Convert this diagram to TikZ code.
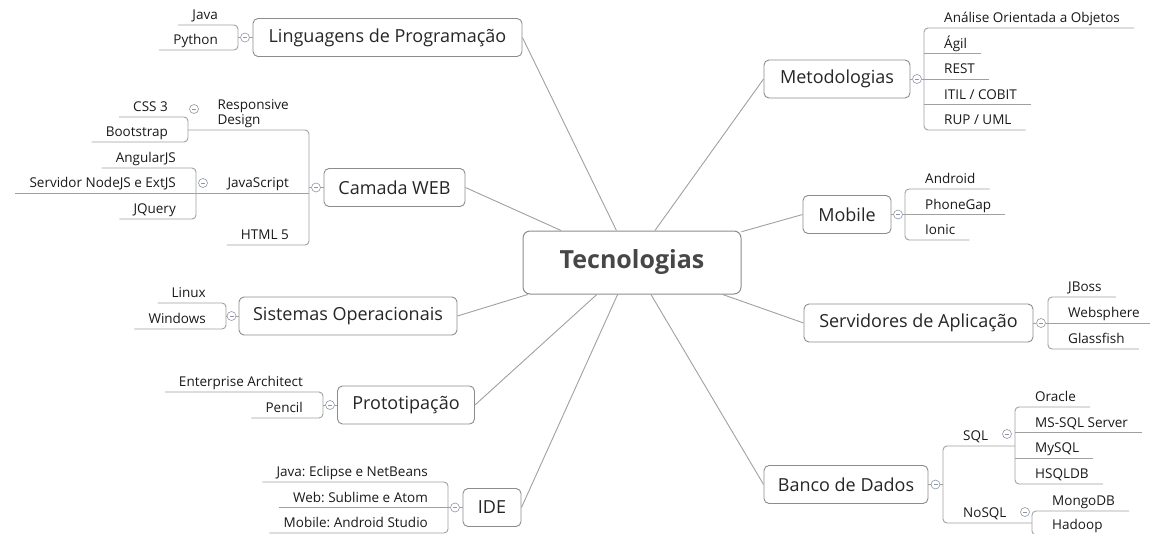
\documentclass[tikz,border=0pt]{standalone}
\usepackage{fontspec}
\setmainfont{Open Sans}
\definecolor{linec}{HTML}{A0A0A0}
\definecolor{boxc}{HTML}{8C8C8C}
\definecolor{foldc}{HTML}{8E96A8}
\newcommand{\leaffont}{\fontsize{13.5}{15}\selectfont}
\newcommand{\topicfont}{\fontsize{18}{21}\selectfont}
\frenchspacing
\begin{document}
\begin{tikzpicture}[x=1pt,y=-1pt,
  root/.style={draw=boxc,line width=1pt,rounded corners=7pt,fill=white,minimum width=218pt,minimum height=63pt,font=\fontsize{25}{29}\selectfont\bfseries,text=black!72},
  topic/.style={draw=boxc,line width=0.9pt,rounded corners=5pt,fill=white,minimum height=38pt,inner xsep=0pt,font=\topicfont,text=black!85},
  leaf/.style={inner xsep=14pt,inner ysep=5pt,text depth=0pt,font=\leaffont,text=black!90},
  fold/.style={circle,draw=foldc,line width=0.6pt,fill=white,minimum size=9pt,inner sep=0pt,
    path picture={\draw[foldc,line width=0.8pt] ([xshift=-2pt]path picture bounding box.center) -- ([xshift=2pt]path picture bounding box.center);}},
  branch/.style={draw=linec,line width=0.9pt},
  bracket/.style={branch,rounded corners=4pt}]
\useasboundingbox (0,0) rectangle (1150,533);
\node[root] (tec) at (632,262.5) {Tecnologias};
% topics, left and right
\node[topic,minimum width=269pt] (ling) at (387.5,37.5) {Linguagens de Programação};
\node[topic,minimum width=141pt] (web) at (394.5,187.5) {Camada WEB};
\node[topic,minimum width=218pt] (so) at (348,316) {Sistemas Operacionais};
\node[topic,minimum width=137pt] (proto) at (406,405) {Prototipação};
\node[topic,minimum width=58pt] (ide) at (492,507.5) {IDE};
\node[topic,minimum width=146pt] (meto) at (837,79) {Metodologias};
\node[topic,minimum width=88pt] (mob) at (847,214.5) {Mobile};
\node[topic,minimum width=229pt] (serv) at (918.5,323) {Servidores de Aplicação};
\node[topic,minimum width=164pt] (bd) at (846,484.5) {Banco de Dados};
\foreach \t in {ling,web,so,proto,ide} \draw[branch] (tec) -- (\t.east);
\foreach \t in {meto,mob,serv,bd} \draw[branch] (tec) -- (\t.west);
% Linguagens de Programacao
\coordinate (lingB) at (238,37.5);
\node[fold] (lingF) at (245,37.5) {};
\draw[branch] (ling) -- (lingF) -- (lingB);
\node[leaf,anchor=south east] (java) at (232,25) {Java};
\node[leaf,anchor=south east] (python) at (232,50) {Python};
\draw[bracket] (java.south west) -- (java.south west -| lingB) -- (python.south west -| lingB) -- (python.south west);
% Camada WEB
\coordinate (webB) at (309,187.5);
\node[fold] (webF) at (316,187.5) {};
\draw[branch] (web) -- (webF) -- (webB);
\node[leaf,anchor=south east,align=left] (resp) at (303,130) {Responsive\\Design};
\node[leaf,anchor=south east] (js) at (303,193) {JavaScript};
\node[leaf,anchor=south east] (html) at (303,245) {HTML 5};
\coordinate (respB) at (188,130);
\coordinate (jsB) at (196,193);
\draw[bracket] (respB) -- (resp.south east -| webB) -- (html.south east -| webB) -- (html.south west);
\draw[branch] (jsB) -- (js.south east -| webB);
\node[fold] (respF) at (194,109) {};
\node[fold] (jsF) at (203,183) {};
\node[leaf,anchor=south east] (css) at (182,117) {CSS 3};
\node[leaf,anchor=south east] (boot) at (182,142) {Bootstrap};
\draw[bracket] (css.south west) -- (css.south west -| respB) -- (boot.south west -| respB) -- (boot.south west);
\node[leaf,anchor=south east] (ang) at (190,168) {AngularJS};
\node[leaf,anchor=south east] (nodejs) at (190,193) {Servidor NodeJS e ExtJS};
\node[leaf,anchor=south east] (jq) at (190,219) {JQuery};
\draw[bracket] (ang.south west) -- (ang.south west -| jsB) -- (jq.south west -| jsB) -- (jq.south west);
\draw[branch] (nodejs.south west) -- (jsB);
% Sistemas Operacionais
\coordinate (soB) at (226,316);
\node[fold] (soF) at (231.5,316) {};
\draw[branch] (so) -- (soF) -- (soB);
\node[leaf,anchor=south east] (linux) at (220,303) {Linux};
\node[leaf,anchor=south east] (win) at (220,329) {Windows};
\draw[bracket] (linux.south west) -- (linux.south west -| soB) -- (win.south west -| soB) -- (win.south west);
% Prototipacao
\coordinate (protoB) at (323,405);
\node[fold] (protoF) at (330,405) {};
\draw[branch] (proto) -- (protoF) -- (protoB);
\node[leaf,anchor=south east] (ea) at (317,392) {Enterprise Architect};
\node[leaf,anchor=south east] (pencil) at (317,418) {Pencil};
\draw[bracket] (ea.south west) -- (ea.south west -| protoB) -- (pencil.south west -| protoB) -- (pencil.south west);
% IDE
\coordinate (ideB) at (448,507.5);
\node[fold] (ideF) at (455,507.5) {};
\draw[branch] (ide) -- (ideF) -- (ideB);
\node[leaf,anchor=south east] (ecl) at (442,482) {Java: Eclipse e NetBeans};
\node[leaf,anchor=south east] (subl) at (442,507.5) {Web: Sublime e Atom};
\node[leaf,anchor=south east] (andst) at (442,533) {Mobile: Android Studio};
\draw[bracket] (ecl.south west) -- (ecl.south west -| ideB) -- (andst.south west -| ideB) -- (andst.south west);
\draw[branch] (subl.south west) -- (ideB);
% Metodologias
\coordinate (metoB) at (924,79);
\node[fold] (metoF) at (917,79) {};
\draw[branch] (meto) -- (metoF) -- (metoB);
\node[leaf,anchor=south west] (ana) at (930,28) {Análise Orientada a Objetos};
\node[leaf,anchor=south west] (agil) at (930,53.5) {Ágil};
\node[leaf,anchor=south west] (rest) at (930,79) {REST};
\node[leaf,anchor=south west] (itil) at (930,104.5) {ITIL / COBIT};
\node[leaf,anchor=south west] (rup) at (930,130) {RUP / UML};
\draw[bracket] (ana.south east) -- (ana.south east -| metoB) -- (rup.south east -| metoB) -- (rup.south east);
\foreach \n in {agil,rest,itil} \draw[branch] (\n.south west -| metoB) -- (\n.south east);
% Mobile
\coordinate (mobB) at (905,214.5);
\node[fold] (mobF) at (898,214.5) {};
\draw[branch] (mob) -- (mobF) -- (mobB);
\node[leaf,anchor=south west] (andr) at (911,189) {Android};
\node[leaf,anchor=south west] (gap) at (911,214.5) {PhoneGap};
\node[leaf,anchor=south west] (ionic) at (911,240) {Ionic};
\draw[bracket] (andr.south east) -- (andr.south east -| mobB) -- (ionic.south east -| mobB) -- (ionic.south east);
\draw[branch] (gap.south west -| mobB) -- (gap.south east);
% Servidores de Aplicacao
\coordinate (servB) at (1048,323);
\node[fold] (servF) at (1041,323) {};
\draw[branch] (serv) -- (servF) -- (servB);
\node[leaf,anchor=south west] (jboss) at (1054,297) {JBoss};
\node[leaf,anchor=south west] (wsph) at (1054,323) {Websphere};
\node[leaf,anchor=south west] (glass) at (1054,349) {Glassfish};
\draw[bracket] (jboss.south east) -- (jboss.south east -| servB) -- (glass.south east -| servB) -- (glass.south east);
\draw[branch] (wsph.south west -| servB) -- (wsph.south east);
% Banco de Dados
\coordinate (bdB) at (943,484.5);
\node[fold] (bdF) at (935.5,484.5) {};
\draw[branch] (bd) -- (bdF) -- (bdB);
\node[leaf,anchor=south west] (sql) at (949,446) {SQL};
\node[leaf,anchor=south west] (nosql) at (949,523) {NoSQL};
\coordinate (sqlB) at (1015,446);
\coordinate (nosqlB) at (1032,523);
\draw[bracket] (sqlB) -- (sql.south west -| bdB) -- (nosql.south west -| bdB) -- (nosqlB);
\node[fold] (sqlF) at (1007,434) {};
\node[fold] (nosqlF) at (1025,512) {};
\node[leaf,anchor=south west] (oracle) at (1021,407) {Oracle};
\node[leaf,anchor=south west] (mssql) at (1021,432.5) {MS-SQL Server};
\node[leaf,anchor=south west] (mysql) at (1021,458) {MySQL};
\node[leaf,anchor=south west] (hsql) at (1021,484) {HSQLDB};
\draw[bracket] (oracle.south east) -- (oracle.south east -| sqlB) -- (hsql.south east -| sqlB) -- (hsql.south east);
\foreach \n in {mssql,mysql} \draw[branch] (\n.south west -| sqlB) -- (\n.south east);
\node[leaf,anchor=south west] (mongo) at (1038,511) {MongoDB};
\node[leaf,anchor=south west] (hadoop) at (1038,535) {Hadoop};
\draw[bracket] (mongo.south east) -- (mongo.south east -| nosqlB) -- (hadoop.south east -| nosqlB) -- (hadoop.south east);
\end{tikzpicture}
\end{document}
